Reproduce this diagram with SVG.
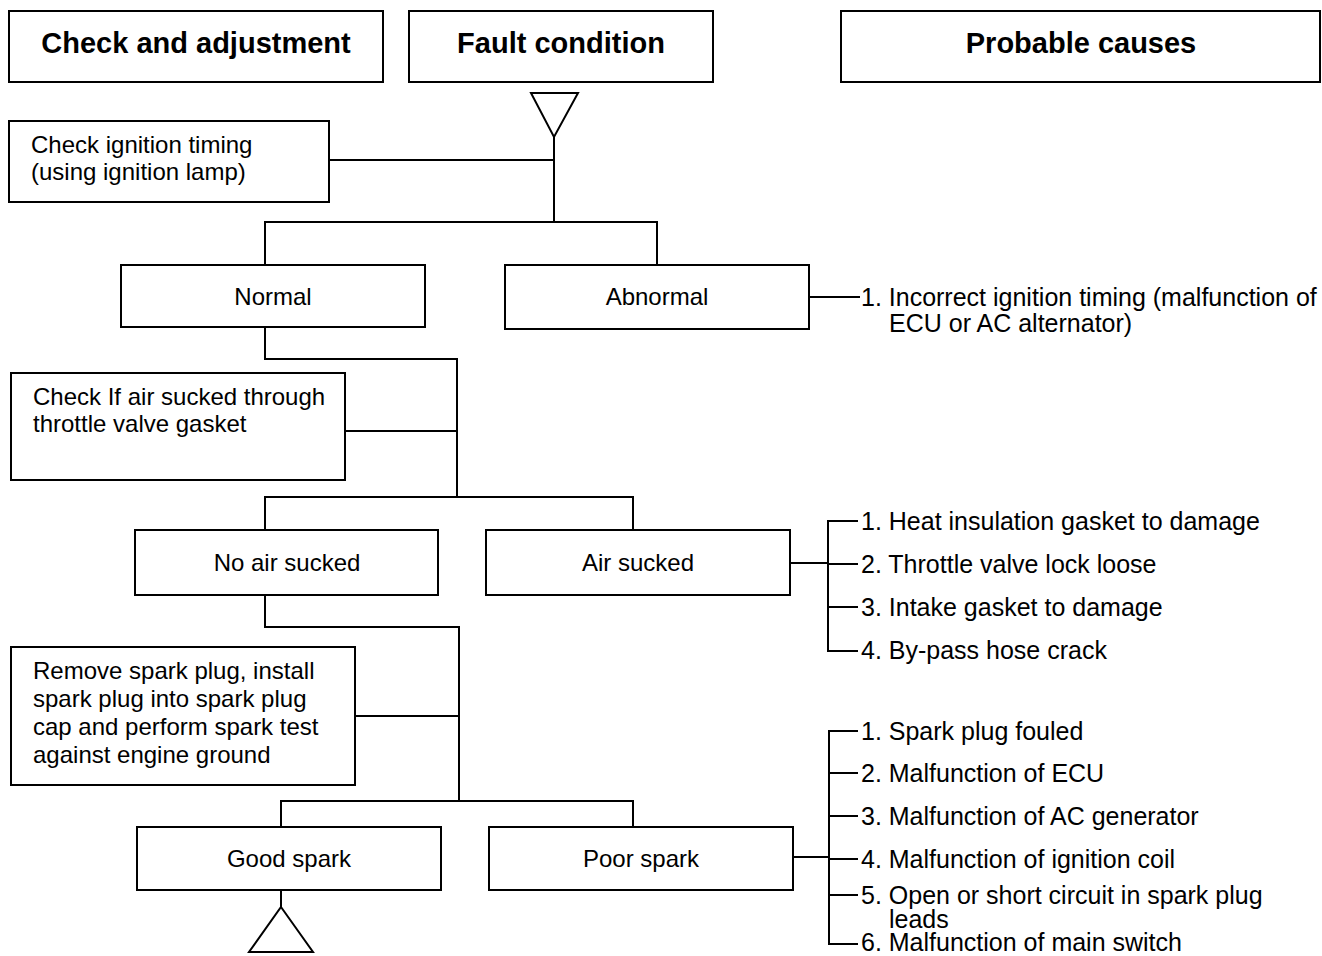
<svg xmlns="http://www.w3.org/2000/svg" width="1322" height="956" viewBox="0 0 1322 956">
<style>
.box{fill:#fff;stroke:#000;stroke-width:2}
.ln{fill:none;stroke:#000;stroke-width:2}
.h{font-family:"Liberation Sans",Arial,sans-serif;font-weight:bold;font-size:29px;text-anchor:middle}
.t{font-family:"Liberation Sans",Arial,sans-serif;font-size:24px}
.r{font-family:"Liberation Sans",Arial,sans-serif;font-size:25px}
.c{text-anchor:middle}
</style>
<rect width="1322" height="956" fill="#fff"/>
<g id="connectors">
<polygon class="ln" points="531,93 578,93 554,137"/>
<polyline class="ln" points="554,137 554,222"/>
<polyline class="ln" points="329,160 554,160"/>
<polyline class="ln" points="265,265 265,222 657,222 657,265"/>
<polyline class="ln" points="809,297 860,297"/>
<polyline class="ln" points="265,327 265,359 457,359 457,497"/>
<polyline class="ln" points="345,431 457,431"/>
<polyline class="ln" points="265,530 265,497 633,497 633,530"/>
<polyline class="ln" points="790,563 828,563"/>
<polyline class="ln" points="858,521 828,521 828,651 858,651"/>
<polyline class="ln" points="828,564 858,564"/>
<polyline class="ln" points="828,607 858,607"/>
<polyline class="ln" points="265,595 265,627 459,627 459,801"/>
<polyline class="ln" points="355,716 459,716"/>
<polyline class="ln" points="281,827 281,801 633,801 633,827"/>
<polyline class="ln" points="793,857 829,857"/>
<polyline class="ln" points="858,731 829,731 829,944 858,944"/>
<polyline class="ln" points="829,773 858,773"/>
<polyline class="ln" points="829,816 858,816"/>
<polyline class="ln" points="829,859 858,859"/>
<polyline class="ln" points="829,895 858,895"/>
<polyline class="ln" points="281,890 281,907"/>
<polygon class="ln" points="281,907 313,952 249,952"/>
</g>
<g id="hdr1"><rect class="box" x="9" y="11" width="374" height="71"/><text class="h" x="196" y="53">Check and adjustment</text></g>
<g id="hdr2"><rect class="box" x="409" y="11" width="304" height="71"/><text class="h" x="561" y="53">Fault condition</text></g>
<g id="hdr3"><rect class="box" x="841" y="11" width="479" height="71"/><text class="h" x="1081" y="53">Probable causes</text></g>
<g id="check1"><rect class="box" x="9" y="121" width="320" height="81"/><text class="t" x="31" y="153">Check ignition timing</text><text class="t" x="31" y="180">(using ignition lamp)</text></g>
<g id="normal"><rect class="box" x="121" y="265" width="304" height="62"/><text class="t c" x="273" y="305">Normal</text></g>
<g id="abnormal"><rect class="box" x="505" y="265" width="304" height="64"/><text class="t c" x="657" y="305">Abnormal</text></g>
<g id="cause-a"><text class="r" x="861" y="306">1. Incorrect ignition timing (malfunction of</text><text class="r" x="889" y="332">ECU or AC alternator)</text></g>
<g id="check2"><rect class="box" x="11" y="373" width="334" height="107"/><text class="t" x="33" y="405">Check If air sucked through</text><text class="t" x="33" y="432">throttle valve gasket</text></g>
<g id="noair"><rect class="box" x="135" y="530" width="303" height="65"/><text class="t c" x="287" y="571">No air sucked</text></g>
<g id="air"><rect class="box" x="486" y="530" width="304" height="65"/><text class="t c" x="638" y="571">Air sucked</text></g>
<g id="cause-b"><text class="r" x="861" y="530">1. Heat insulation gasket to damage</text><text class="r" x="861" y="573">2. Throttle valve lock loose</text><text class="r" x="861" y="616">3. Intake gasket to damage</text><text class="r" x="861" y="659">4. By-pass hose crack</text></g>
<g id="check3"><rect class="box" x="11" y="647" width="344" height="138"/><text class="t" x="33" y="679">Remove spark plug, install</text><text class="t" x="33" y="707">spark plug into spark plug</text><text class="t" x="33" y="735">cap and perform spark test</text><text class="t" x="33" y="763">against engine ground</text></g>
<g id="good"><rect class="box" x="137" y="827" width="304" height="63"/><text class="t c" x="289" y="867">Good spark</text></g>
<g id="poor"><rect class="box" x="489" y="827" width="304" height="63"/><text class="t c" x="641" y="867">Poor spark</text></g>
<g id="cause-c"><text class="r" x="861" y="740">1. Spark plug fouled</text><text class="r" x="861" y="782">2. Malfunction of ECU</text><text class="r" x="861" y="825">3. Malfunction of AC generator</text><text class="r" x="861" y="868">4. Malfunction of ignition coil</text><text class="r" x="861" y="904">5. Open or short circuit in spark plug</text><text class="r" x="889" y="928">leads</text><text class="r" x="861" y="951">6. Malfunction of main switch</text></g>
</svg>
